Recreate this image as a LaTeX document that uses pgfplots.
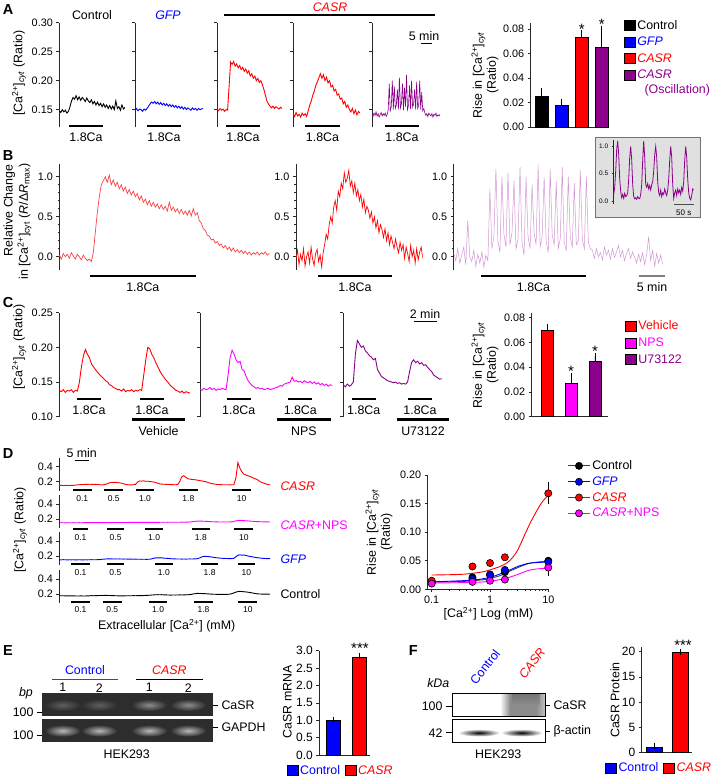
\documentclass[border=0pt]{standalone}
\usepackage{pgfplots}
\pgfplotsset{compat=1.18}
\usepackage{fontspec}
\setmainfont{Liberation Sans}
\definecolor{myblue}{RGB}{0,0,255}
\definecolor{myred}{RGB}{255,0,0}
\definecolor{mymag}{RGB}{255,0,255}
\definecolor{mypur}{RGB}{140,0,140}
\definecolor{mylil}{RGB}{210,150,210}
\definecolor{axc}{RGB}{40,40,40}
\definecolor{gelbg}{RGB}{45,45,45}
\newcommand{\tl}{\fontsize{10.8}{12}\selectfont}
\newcommand{\tlb}{\fontsize{12}{14}\selectfont}
\newcommand{\lb}{\fontsize{12.4}{14}\selectfont}
\newcommand{\sm}{\fontsize{8.5}{9}\selectfont}
\newcommand{\st}{\fontsize{15}{15}\selectfont}
\newcommand{\pl}{\fontsize{14.5}{16}\selectfont\bfseries}
\newcommand{\cyt}{[Ca\textsuperscript{2+}]\textsubscript{\textit{cyt}}}
\tikzset{lb/.style={font=\lb}, sm/.style={font=\sm}, pl/.style={font=\pl}, st/.style={font=\st}}
\pgfplotsset{
 table/yseq/.style={x expr=\coordindex, y index=0, header=false, row sep=\\},
 base/.style={scale only axis, enlargelimits=false, scaled y ticks=false, scaled x ticks=false, axis line style={axc, line width=0.8pt},
   every tick/.style={axc, line width=0.7pt}, major tick length=3pt, minor tick length=1.6pt,
   tick align=outside, tick label style={font=\tl}, anchor=south west},
 trace/.style={base, axis x line=none, axis y line*=left, xtick=\empty, xmin=0},
 bars/.style={base, clip=false, axis x line*=bottom, axis y line*=left, xtick=\empty, ymin=0, ybar, legend cell align=left,
   legend style={draw=none, fill=none, font=\lb, inner sep=0pt}},
 sq/.style={bar shift=0pt, draw=black, line width=0.6pt, legend image code/.code={\draw[##1, line width=0.6pt] (0pt,-5pt) rectangle (10.5pt,5pt);},
   error bars/y dir=plus, error bars/y explicit, error bars/error bar style={black, line width=0.8pt}, error bars/error mark options={black, line width=0.8pt, mark size=3pt}},
}
\begin{document}
\begin{tikzpicture}
\useasboundingbox (0,0) rectangle (716pt,-778pt);
%================ PANEL A ================
\node[pl] at (8pt,-10pt) {A};
\node[lb] at (92pt,-15pt) {Control};
\node[lb, myblue] at (168pt,-15pt) {\textit{GFP}};
\node[lb, myred] at (330pt,-7.5pt) {\textit{CASR}};
\draw[black, line width=1.3pt] (224pt,-15pt) -- (435pt,-15pt);
\node[lb, rotate=90] at (19pt,-73pt) {\cyt{} (Ratio)};
\begin{axis}[trace, at={(59.3pt,-127pt)}, width=65.7pt, height=104.3pt, xmax=43, ymin=0.12, ymax=0.30,
 ytick={0.15,0.20,0.25,0.30}, yticklabels={0.15,0.20,0.25,0.30}]
\addplot[black, line width=0.9pt] table[yseq]{0.148\\0.145\\0.150\\0.146\\0.149\\0.144\\0.147\\0.155\\0.165\\0.171\\0.168\\0.174\\0.167\\0.172\\0.166\\0.171\\0.168\\0.164\\0.170\\0.165\\0.162\\0.167\\0.160\\0.164\\0.158\\0.163\\0.157\\0.161\\0.155\\0.160\\0.154\\0.158\\0.152\\0.157\\0.151\\0.156\\0.150\\0.165\\0.152\\0.155\\0.149\\0.158\\0.151\\0.154\\};
\end{axis}
\begin{axis}[trace, at={(135pt,-127pt)}, width=68pt, height=104.3pt, xmax=45, ymin=0.12, ymax=0.30,
 ytick={0.15,0.20,0.25,0.30}, yticklabels={}]
\addplot[myblue, line width=0.9pt] table[yseq]{0.149\\0.152\\0.148\\0.151\\0.150\\0.147\\0.151\\0.149\\0.152\\0.156\\0.160\\0.163\\0.161\\0.164\\0.160\\0.163\\0.159\\0.162\\0.158\\0.161\\0.157\\0.160\\0.156\\0.159\\0.155\\0.158\\0.154\\0.157\\0.153\\0.156\\0.152\\0.155\\0.151\\0.154\\0.150\\0.153\\0.151\\0.149\\0.153\\0.150\\0.152\\0.149\\0.152\\0.150\\0.151\\0.152\\};
\end{axis}
\begin{axis}[trace, at={(217pt,-127pt)}, width=65pt, height=104.3pt, xmax=43, ymin=0.12, ymax=0.30,
 ytick={0.15,0.20,0.25,0.30}, yticklabels={}]
\addplot[myred, line width=0.9pt] table[yseq]{0.151\\0.148\\0.152\\0.149\\0.151\\0.147\\0.150\\0.149\\0.190\\0.232\\0.228\\0.233\\0.225\\0.229\\0.222\\0.226\\0.219\\0.223\\0.216\\0.220\\0.213\\0.217\\0.208\\0.212\\0.204\\0.208\\0.200\\0.204\\0.197\\0.200\\0.193\\0.185\\0.175\\0.165\\0.160\\0.156\\0.153\\0.156\\0.152\\0.155\\0.153\\0.151\\0.154\\0.152\\};
\end{axis}
\begin{axis}[trace, at={(293pt,-127pt)}, width=67pt, height=104.3pt, xmax=44, ymin=0.12, ymax=0.30,
 ytick={0.15,0.20,0.25,0.30}, yticklabels={}]
\addplot[myred, line width=0.9pt] table[yseq]{0.143\\0.138\\0.145\\0.139\\0.142\\0.137\\0.144\\0.140\\0.143\\0.138\\0.148\\0.158\\0.165\\0.175\\0.182\\0.192\\0.198\\0.205\\0.212\\0.204\\0.210\\0.200\\0.206\\0.196\\0.200\\0.189\\0.192\\0.182\\0.185\\0.175\\0.177\\0.168\\0.170\\0.160\\0.164\\0.154\\0.158\\0.150\\0.146\\0.152\\0.143\\0.149\\0.141\\0.147\\0.144\\};
\end{axis}
\begin{axis}[trace, at={(372pt,-127pt)}, width=68pt, height=104.3pt, xmax=67, ymin=0.12, ymax=0.30,
 ytick={0.15,0.20,0.25,0.30}, yticklabels={}]
\addplot[mypur, line width=0.6pt] table[yseq]{0.142\\0.138\\0.144\\0.140\\0.146\\0.139\\0.143\\0.137\\0.141\\0.145\\0.139\\0.143\\0.140\\0.144\\0.138\\0.142\\0.150\\0.195\\0.148\\0.155\\0.200\\0.150\\0.190\\0.152\\0.158\\0.185\\0.150\\0.205\\0.153\\0.160\\0.195\\0.149\\0.188\\0.155\\0.210\\0.150\\0.158\\0.192\\0.151\\0.200\\0.154\\0.160\\0.185\\0.150\\0.198\\0.152\\0.157\\0.200\\0.150\\0.180\\0.148\\0.152\\0.145\\0.140\\0.143\\0.138\\0.144\\0.141\\0.139\\0.143\\0.137\\0.142\\0.140\\0.144\\0.138\\0.141\\0.139\\0.142\\};
\end{axis}
\foreach \a/\b in {69/103,147/181,226/260,305/340,385/419}{
 \draw[black, line width=2.6pt] (\a pt,-126pt) -- (\b pt,-126pt);
 \node[lb] at ({(\a+\b)/2*1pt},-137pt) {1.8Ca};}
\node[lb] at (424pt,-36pt) {5 min};
\draw[black, line width=1pt] (420.7pt,-43.5pt) -- (431.7pt,-43.5pt);
% A bar chart
\node[lb, rotate=90, align=center] at (485pt,-75pt) {Rise in \cyt\\(Ratio)};
\begin{axis}[bars, at={(530.7pt,-127pt)}, width=77.3pt, height=104.3pt, xmin=0.45, xmax=4.315, ymax=0.0851,
 ytick={0,0.02,0.04,0.06,0.08}, yticklabels={0.00,0.02,0.04,0.06,0.08}, bar width=13pt,
 legend style={at={(1.207,1.045)}, anchor=north west, row sep=2.3pt}]
\addplot[sq, fill=black] coordinates {(1,0.025) +- (0,0.004)}; \addlegendentry{Control}
\addplot[sq, fill=myblue] coordinates {(2,0.018) +- (0,0.0025)}; \addlegendentry{\textcolor{myblue}{\textit{GFP}}}
\addplot[sq, fill=myred] coordinates {(3,0.073) +- (0,0.004)}; \addlegendentry{\textcolor{myred}{\textit{CASR}}}
\addplot[sq, fill=mypur] coordinates {(4,0.065) +- (0,0.015)}; \addlegendentry{\textcolor{mypur}{\textit{CASR}}}
\node[st] at (axis cs:3,0.0800) {*};
\node[st] at (axis cs:4,0.0835) {*};
\end{axis}
\node[lb, mypur, anchor=west] at (641pt,-90pt) {(Oscillation)};
%================ PANEL B ================
\node[pl] at (8pt,-156pt) {B};
\node[lb, rotate=90, anchor=east] at (9.5pt,-161pt) {Relative Change};
\node[lb, rotate=90, anchor=east] at (24.5pt,-160pt) {in [Ca\textsuperscript{2+}]\textsubscript{cyt} (\textit{R}/Δ\textit{R}\textsubscript{max})};
\begin{axis}[trace, at={(59.3pt,-269.5pt)}, width=210pt, height=105.6pt, xmax=105, ymin=-0.16, ymax=1.16,
 ytick={0,0.5,1}, yticklabels={0.0,0.5,1.0}, minor y tick num=4]
\addplot[myred!75, line width=0.7pt] table[yseq]{0.02\\-0.03\\0.04\\0.00\\0.03\\-0.02\\0.05\\0.01\\-0.03\\0.03\\0.00\\-0.04\\0.02\\-0.02\\-0.05\\-0.03\\-0.06\\0.05\\0.30\\0.55\\0.75\\0.90\\0.95\\1.00\\0.93\\1.02\\0.90\\0.96\\0.88\\0.93\\0.85\\0.90\\0.82\\0.87\\0.79\\0.84\\0.77\\0.82\\0.75\\0.79\\0.71\\0.76\\0.68\\0.72\\0.65\\0.70\\0.63\\0.68\\0.62\\0.66\\0.60\\0.65\\0.59\\0.63\\0.57\\0.68\\0.58\\0.62\\0.56\\0.60\\0.54\\0.59\\0.53\\0.57\\0.52\\0.58\\0.51\\0.60\\0.52\\0.55\\0.45\\0.42\\0.35\\0.33\\0.27\\0.26\\0.21\\0.22\\0.17\\0.19\\0.14\\0.16\\0.11\\0.14\\0.09\\0.12\\0.07\\0.11\\0.06\\0.09\\0.05\\0.08\\0.04\\0.07\\0.03\\0.06\\0.02\\0.05\\0.03\\0.06\\0.02\\0.05\\0.03\\0.06\\0.02\\0.04\\};
\end{axis}
\begin{axis}[trace, at={(296pt,-269.5pt)}, width=126.7pt, height=105.6pt, xmax=84, ymin=-0.16, ymax=1.16,
 ytick={0,0.5,1}, yticklabels={0.0,0.5,1.0}, minor y tick num=4]
\addplot[myred, line width=0.7pt] table[yseq]{-0.02\\0.08\\-0.10\\0.03\\-0.05\\0.10\\-0.12\\0.00\\0.06\\-0.08\\0.12\\-0.03\\-0.11\\0.04\\0.09\\-0.06\\0.02\\-0.13\\0.05\\0.15\\0.28\\0.22\\0.40\\0.50\\0.42\\0.62\\0.70\\0.58\\0.82\\0.75\\0.92\\0.85\\1.05\\0.93\\0.98\\1.08\\0.88\\0.95\\0.80\\0.92\\0.76\\0.84\\0.70\\0.78\\0.62\\0.72\\0.55\\0.63\\0.58\\0.48\\0.56\\0.42\\0.50\\0.36\\0.45\\0.30\\0.40\\0.34\\0.24\\0.35\\0.20\\0.30\\0.15\\0.26\\0.18\\0.10\\0.22\\0.12\\0.05\\0.18\\0.08\\0.15\\-0.02\\0.12\\0.04\\-0.06\\0.14\\0.00\\0.08\\-0.08\\0.10\\-0.04\\0.06\\0.12\\-0.02\\};
\end{axis}
\begin{axis}[trace, at={(453.7pt,-269.5pt)}, width=209pt, height=105.6pt, xmax=104, ymin=-0.16, ymax=1.16,
 ytick={0,0.5,1}, yticklabels={0.0,0.5,1.0}, minor y tick num=4]
\addplot[mylil, line width=0.5pt] table[yseq]{0.05\\-0.05\\0.10\\-0.08\\0.02\\0.12\\-0.10\\0.45\\0.00\\-0.06\\0.08\\-0.12\\0.03\\-0.08\\0.06\\-0.13\\0.02\\-0.05\\0.85\\0.10\\0.25\\1.10\\0.20\\0.05\\1.00\\0.28\\0.12\\1.05\\0.15\\0.30\\0.95\\0.10\\0.22\\1.12\\0.18\\0.02\\1.00\\0.25\\0.10\\0.90\\0.30\\0.15\\1.15\\0.12\\0.25\\1.00\\0.20\\0.05\\1.10\\0.28\\0.15\\0.95\\0.10\\0.22\\1.12\\0.18\\0.08\\1.00\\0.25\\0.12\\0.92\\0.15\\0.20\\1.08\\0.22\\0.10\\1.00\\0.18\\0.10\\0.08\\-0.02\\0.10\\0.00\\0.05\\-0.04\\0.12\\0.02\\0.08\\-0.03\\0.10\\-0.01\\0.06\\0.14\\0.00\\0.08\\-0.05\\0.04\\0.10\\-0.02\\0.06\\0.00\\-0.08\\0.03\\-0.06\\0.05\\-0.10\\0.02\\0.25\\-0.05\\0.08\\-0.12\\0.04\\-0.08\\0.02\\-0.10\\};
\end{axis}
\foreach \a/\b in {90/195.7,318.3/391.7,481/586}{
 \draw[black, line width=2.6pt] (\a pt,-276pt) -- (\b pt,-276pt);
 \node[lb] at ({(\a+\b)/2*1pt},-287pt) {1.8Ca};}
\draw[gray, line width=2.6pt] (638.7pt,-276pt) -- (665.3pt,-276pt);
\node[lb] at (652pt,-287pt) {5 min};
% inset
\filldraw[fill=black!12, draw=black!55, line width=0.8pt] (595pt,-137.7pt) rectangle (700pt,-217.7pt);
\begin{axis}[trace, at={(613.7pt,-203.7pt)}, width=80pt, height=63.8pt, xmax=80, ymin=-0.05, ymax=1.12,
 ytick={0,0.5,1}, yticklabels={0.0,0.5,1.0}, major tick length=2pt, tick label style={font=\fontsize{6.5}{7}\selectfont}, axis line style={line width=0.6pt}]
\addplot[mypur, line width=0.8pt] table[yseq]{0.12\\0.25\\0.55\\0.95\\1.10\\0.85\\0.40\\0.18\\0.06\\0.12\\0.05\\0.14\\0.08\\0.10\\0.15\\0.40\\0.80\\1.00\\0.75\\0.30\\0.08\\0.04\\0.06\\0.03\\0.08\\0.05\\0.04\\0.12\\0.30\\0.75\\1.10\\0.80\\0.30\\0.25\\0.32\\0.22\\0.28\\0.20\\0.30\\0.35\\0.55\\0.85\\1.00\\0.80\\0.35\\0.15\\0.10\\0.20\\0.08\\0.15\\0.12\\0.22\\0.15\\0.10\\0.20\\0.40\\0.75\\1.00\\0.80\\0.30\\0.05\\0.15\\0.20\\0.10\\0.22\\0.15\\0.20\\0.12\\0.25\\0.18\\0.35\\0.75\\1.00\\0.80\\0.40\\0.15\\0.05\\0.02\\0.10\\0.22\\0.20\\};
\end{axis}
\draw[black!70, line width=1.2pt] (673.7pt,-204.3pt) -- (693.7pt,-204.3pt);
\node[font=\fontsize{8}{8}\selectfont] at (683.7pt,-212.7pt) {50 s};
%================ PANEL C ================
\node[pl] at (8pt,-303pt) {C};
\node[lb, rotate=90] at (19pt,-347pt) {\cyt{} (Ratio)};
\begin{axis}[trace, at={(59.3pt,-416.7pt)}, width=130.7pt, height=104pt, xmax=65, ymin=0.10, ymax=0.25,
 ytick={0.10,0.15,0.20,0.25}, yticklabels={0.10,0.15,0.20,0.25}]
\addplot[myred, line width=0.9pt] table[yseq]{0.138\\0.136\\0.139\\0.135\\0.138\\0.137\\0.139\\0.135\\0.138\\0.137\\0.150\\0.172\\0.188\\0.197\\0.190\\0.185\\0.176\\0.172\\0.168\\0.164\\0.161\\0.158\\0.155\\0.152\\0.150\\0.146\\0.145\\0.142\\0.141\\0.139\\0.139\\0.137\\0.140\\0.136\\0.138\\0.137\\0.139\\0.136\\0.138\\0.137\\0.139\\0.138\\0.160\\0.182\\0.200\\0.198\\0.190\\0.185\\0.178\\0.172\\0.166\\0.161\\0.157\\0.153\\0.150\\0.146\\0.143\\0.141\\0.138\\0.137\\0.135\\0.137\\0.134\\0.136\\0.135\\0.134\\};
\end{axis}
\begin{axis}[trace, at={(200pt,-416.7pt)}, width=132.3pt, height=104pt, xmax=66, ymin=0.10, ymax=0.25,
 ytick={0.10,0.15,0.20,0.25}, yticklabels={}]
\addplot[mymag, line width=0.9pt] table[yseq]{0.140\\0.138\\0.141\\0.139\\0.140\\0.142\\0.139\\0.141\\0.138\\0.140\\0.139\\0.141\\0.140\\0.139\\0.160\\0.185\\0.196\\0.190\\0.182\\0.178\\0.180\\0.168\\0.166\\0.158\\0.152\\0.148\\0.145\\0.143\\0.141\\0.142\\0.140\\0.141\\0.139\\0.140\\0.141\\0.139\\0.140\\0.141\\0.142\\0.143\\0.145\\0.144\\0.147\\0.148\\0.149\\0.150\\0.157\\0.151\\0.152\\0.150\\0.151\\0.149\\0.152\\0.150\\0.149\\0.151\\0.148\\0.150\\0.147\\0.149\\0.146\\0.148\\0.145\\0.147\\0.144\\0.146\\0.145\\};
\end{axis}
\begin{axis}[trace, at={(343.3pt,-416.7pt)}, width=98.4pt, height=104pt, xmax=49, ymin=0.10, ymax=0.25,
 ytick={0.10,0.15,0.20,0.25}, yticklabels={}]
\addplot[mypur, line width=0.9pt] table[yseq]{0.146\\0.143\\0.147\\0.144\\0.146\\0.150\\0.190\\0.210\\0.205\\0.200\\0.202\\0.195\\0.192\\0.188\\0.186\\0.182\\0.184\\0.168\\0.163\\0.158\\0.156\\0.154\\0.152\\0.151\\0.150\\0.149\\0.150\\0.148\\0.149\\0.147\\0.148\\0.147\\0.150\\0.165\\0.178\\0.182\\0.178\\0.180\\0.176\\0.178\\0.174\\0.175\\0.171\\0.168\\0.165\\0.160\\0.158\\0.156\\0.154\\0.155\\};
\end{axis}
\foreach \a/\b in {77.3/100.7,140/164,226.7/250.7,288.3/312.3,351.7/375.7,408.3/431.7}{
 \draw[black, line width=2.6pt] (\a pt,-399pt) -- (\b pt,-399pt);
 \node[lb] at ({(\a+\b)/2*1pt},-410pt) {1.8Ca};}
\foreach \a/\b/\t in {132.3/185/Vehicle,276.7/331/NPS,396.7/449.3/U73122}{
 \draw[black, line width=2.6pt] (\a pt,-419.3pt) -- (\b pt,-419.3pt);
 \node[lb] at ({(\a+\b)/2*1pt},-431pt) {\t};}
\node[lb] at (425pt,-314pt) {2 min};
\draw[black, line width=1pt] (414.3pt,-321.7pt) -- (436.7pt,-321.7pt);
% C bar chart
\node[lb, rotate=90, align=center] at (485pt,-365pt) {Rise in \cyt\\(Ratio)};
\begin{axis}[bars, at={(531.7pt,-416.7pt)}, width=76.6pt, height=103.4pt, xmin=0.345, xmax=3.56, ymax=0.0835,
 ytick={0,0.02,0.04,0.06,0.08}, yticklabels={0.00,0.02,0.04,0.06,0.08}, bar width=12pt,
 legend style={at={(1.22,0.95)}, anchor=north west, row sep=2.6pt}]
\addplot[sq, fill=myred] coordinates {(1,0.070) +- (0,0.0025)}; \addlegendentry{\textcolor{myred}{Vehicle}}
\addplot[sq, fill=mymag] coordinates {(2,0.027) +- (0,0.006)}; \addlegendentry{\textcolor{mymag}{NPS}}
\addplot[sq, fill=mypur] coordinates {(3,0.045) +- (0,0.004)}; \addlegendentry{\textcolor{mypur}{U73122}}
\node[st] at (axis cs:2,0.0365) {*};
\node[st] at (axis cs:3,0.0525) {*};
\end{axis}
%================ PANEL D ================
\node[pl] at (8pt,-454pt) {D};
\node[lb] at (81.7pt,-452.7pt) {5 min};
\draw[black, line width=1pt] (75pt,-460.7pt) -- (89.3pt,-460.7pt);
\node[lb, rotate=90] at (20pt,-530pt) {\cyt{} (Ratio)};
\begin{axis}[trace, at={(59.3pt,-490.7pt)}, width=210.7pt, height=33pt, xmax=105, ymin=0.08, ymax=0.52,
 ytick={0.2,0.4}, yticklabels={0.2,0.4}]
\addplot[myred, line width=0.9pt] table[yseq]{0.150\\0.152\\0.149\\0.151\\0.150\\0.148\\0.152\\0.150\\0.155\\0.158\\0.160\\0.162\\0.163\\0.165\\0.164\\0.166\\0.165\\0.163\\0.164\\0.162\\0.160\\0.158\\0.160\\0.165\\0.175\\0.185\\0.190\\0.192\\0.190\\0.188\\0.185\\0.180\\0.172\\0.165\\0.160\\0.158\\0.157\\0.160\\0.165\\0.195\\0.210\\0.208\\0.212\\0.205\\0.207\\0.203\\0.200\\0.196\\0.190\\0.180\\0.172\\0.168\\0.166\\0.165\\0.163\\0.162\\0.161\\0.160\\0.160\\0.161\\0.200\\0.265\\0.280\\0.260\\0.240\\0.235\\0.230\\0.228\\0.225\\0.220\\0.215\\0.210\\0.205\\0.200\\0.190\\0.182\\0.175\\0.170\\0.166\\0.163\\0.162\\0.160\\0.160\\0.159\\0.160\\0.158\\0.159\\0.160\\0.250\\0.455\\0.380\\0.330\\0.300\\0.290\\0.280\\0.270\\0.260\\0.245\\0.235\\0.222\\0.200\\0.190\\0.180\\0.170\\0.162\\0.158\\};
\end{axis}
\begin{axis}[trace, at={(59.3pt,-528pt)}, width=210.7pt, height=33pt, xmax=105, ymin=0.08, ymax=0.52,
 ytick={0.2,0.4}, yticklabels={0.2,0.4}]
\addplot[mymag, line width=0.9pt] table[yseq]{0.150\\0.151\\0.150\\0.149\\0.151\\0.150\\0.150\\0.151\\0.150\\0.150\\0.151\\0.150\\0.151\\0.151\\0.152\\0.151\\0.152\\0.152\\0.151\\0.152\\0.152\\0.152\\0.153\\0.152\\0.153\\0.153\\0.152\\0.153\\0.153\\0.154\\0.153\\0.154\\0.154\\0.153\\0.154\\0.155\\0.154\\0.155\\0.154\\0.155\\0.155\\0.154\\0.155\\0.156\\0.155\\0.156\\0.155\\0.156\\0.156\\0.155\\0.156\\0.157\\0.156\\0.157\\0.156\\0.157\\0.157\\0.156\\0.157\\0.157\\0.157\\0.158\\0.157\\0.158\\0.158\\0.160\\0.163\\0.167\\0.170\\0.172\\0.171\\0.172\\0.170\\0.169\\0.168\\0.166\\0.164\\0.163\\0.162\\0.161\\0.160\\0.160\\0.161\\0.160\\0.160\\0.161\\0.162\\0.168\\0.175\\0.180\\0.182\\0.180\\0.178\\0.177\\0.175\\0.172\\0.170\\0.168\\0.166\\0.165\\0.164\\0.163\\0.162\\0.162\\0.161\\0.160\\};
\end{axis}
\begin{axis}[trace, at={(59.3pt,-565pt)}, width=210.7pt, height=33pt, xmax=105, ymin=0.08, ymax=0.52,
 ytick={0.2,0.4}, yticklabels={0.2,0.4}]
\addplot[myblue, line width=0.9pt] table[yseq]{0.150\\0.149\\0.151\\0.150\\0.148\\0.150\\0.149\\0.150\\0.148\\0.149\\0.150\\0.149\\0.148\\0.150\\0.149\\0.150\\0.151\\0.150\\0.150\\0.151\\0.152\\0.155\\0.158\\0.160\\0.162\\0.161\\0.162\\0.160\\0.161\\0.160\\0.161\\0.160\\0.159\\0.160\\0.159\\0.158\\0.158\\0.157\\0.158\\0.157\\0.157\\0.156\\0.157\\0.156\\0.156\\0.157\\0.162\\0.170\\0.175\\0.176\\0.174\\0.175\\0.172\\0.170\\0.168\\0.165\\0.163\\0.162\\0.161\\0.160\\0.160\\0.159\\0.160\\0.159\\0.160\\0.161\\0.160\\0.161\\0.162\\0.165\\0.175\\0.188\\0.195\\0.196\\0.193\\0.190\\0.186\\0.182\\0.178\\0.175\\0.172\\0.170\\0.168\\0.167\\0.166\\0.165\\0.166\\0.170\\0.190\\0.210\\0.215\\0.212\\0.213\\0.208\\0.200\\0.195\\0.190\\0.185\\0.180\\0.176\\0.173\\0.170\\0.168\\0.166\\0.165\\0.164\\};
\end{axis}
\begin{axis}[trace, at={(59.3pt,-603pt)}, width=210.7pt, height=33pt, xmax=105, ymin=0.08, ymax=0.52,
 ytick={0.2,0.4}, yticklabels={0.2,0.4}]
\addplot[black, line width=0.9pt] table[yseq]{0.178\\0.176\\0.177\\0.175\\0.176\\0.174\\0.175\\0.176\\0.174\\0.173\\0.174\\0.175\\0.173\\0.174\\0.175\\0.176\\0.178\\0.177\\0.178\\0.179\\0.180\\0.181\\0.180\\0.182\\0.181\\0.180\\0.179\\0.178\\0.177\\0.176\\0.175\\0.176\\0.175\\0.176\\0.177\\0.176\\0.177\\0.178\\0.177\\0.178\\0.179\\0.178\\0.180\\0.181\\0.182\\0.184\\0.186\\0.188\\0.190\\0.191\\0.190\\0.191\\0.189\\0.188\\0.187\\0.186\\0.186\\0.187\\0.186\\0.187\\0.188\\0.187\\0.188\\0.189\\0.190\\0.192\\0.196\\0.202\\0.206\\0.208\\0.207\\0.206\\0.205\\0.204\\0.202\\0.200\\0.198\\0.197\\0.196\\0.195\\0.194\\0.195\\0.194\\0.195\\0.196\\0.198\\0.205\\0.215\\0.225\\0.232\\0.235\\0.233\\0.230\\0.228\\0.224\\0.220\\0.215\\0.210\\0.205\\0.202\\0.200\\0.199\\0.198\\0.199\\0.198\\0.197\\};
\end{axis}
% D stimulus bars and labels
\foreach \a/\b/\t in {72.7/91.7/0.1,104.3/123.3/0.5,136/154/1.0,179/197.7/1.8,232.3/250.7/10}{
 \draw[black, line width=2pt] (\a pt,-490pt) -- (\b pt,-490pt);
 \node[sm] at ({(\a+\b)/2*1pt},-498.5pt) {\t};}
\foreach \a/\b/\t in {72.7/88.3/0.1,107.3/124/0.5,145/163.3/1.0,191.7/210/1.8,234.3/253.3/10}{
 \draw[black, line width=2pt] (\a pt,-529pt) -- (\b pt,-529pt);
 \node[sm] at ({(\a+\b)/2*1pt},-537.7pt) {\t};}
\foreach \a/\b/\t in {71/90/0.1,106.7/124/0.5,155/172.7/1.0,201/218.3/1.8,237.7/255/10}{
 \draw[black, line width=2pt] (\a pt,-564pt) -- (\b pt,-564pt);
 \node[sm] at ({(\a+\b)/2*1pt},-572.7pt) {\t};}
\foreach \a/\b/\t in {71/90/0.1,102.7/121.7/0.5,149/167.3/1.0,194.3/212.7/1.8,238.3/257.3/10}{
 \draw[black, line width=2pt] (\a pt,-601.7pt) -- (\b pt,-601.7pt);
 \node[sm] at ({(\a+\b)/2*1pt},-609.5pt) {\t};}
\node[lb, myred, anchor=west] at (277pt,-486pt) {\textit{CASR}};
\node[lb, mymag, anchor=west] at (277pt,-525.7pt) {\textit{CASR}+NPS};
\node[lb, myblue, anchor=west] at (277pt,-559pt) {\textit{GFP}};
\node[lb, anchor=west] at (277pt,-594pt) {Control};
\node[lb] at (166.7pt,-626pt) {Extracellular [Ca\textsuperscript{2+}] (mM)};
% D dose response
\node[lb, rotate=90, align=center] at (379pt,-532pt) {Rise in \cyt\\(Ratio)};
\begin{axis}[base, at={(427.7pt,-589.3pt)}, width=121.6pt, height=114.3pt, xmode=log, xmin=0.0854, xmax=10.4, ymin=0, ymax=0.2,
 axis x line*=bottom, axis y line*=left, xtick={0.1,1,10}, xticklabels={0.1,1,10},
 ytick={0,0.05,0.10,0.15,0.20}, yticklabels={0.00,0.05,0.10,0.15,0.20},
 xlabel={[Ca\textsuperscript{2+}] Log (mM)}, xlabel style={font=\lb, yshift=3pt},
 legend cell align=left, legend style={draw=none, fill=none, font=\lb, inner sep=0pt, at={(1.15,1.145)}, anchor=north west, row sep=1.6pt},
 legend image code/.code={\draw[mark repeat=2,mark phase=2,#1] plot coordinates {(0pt,0pt) (10.8pt,0pt) (21.6pt,0pt)};}]
\addplot[black!75, line width=0.9pt, smooth, forget plot] coordinates {(0.1,0.013)(0.3,0.0135)(0.5,0.015)(0.8,0.017)(1,0.019)(1.5,0.024)(2,0.03)(3,0.038)(4,0.043)(5,0.046)(7,0.048)(10,0.049)};
\addplot[myblue, line width=0.9pt, smooth, forget plot] coordinates {(0.1,0.013)(0.5,0.016)(1,0.021)(1.5,0.027)(2,0.032)(3,0.04)(4,0.044)(5,0.046)(7,0.047)(10,0.048)};
\addplot[myred, line width=0.9pt, smooth, forget plot] coordinates {(0.1,0.025)(0.3,0.026)(0.5,0.028)(0.8,0.031)(1,0.034)(1.5,0.04)(2,0.047)(2.5,0.057)(3,0.069)(4,0.097)(5,0.118)(6,0.133)(7,0.145)(8,0.154)(10,0.165)};
\addplot[mymag, line width=0.9pt, smooth, forget plot] coordinates {(0.1,0.011)(0.5,0.012)(1,0.014)(1.5,0.017)(2,0.02)(3,0.026)(4,0.031)(5,0.034)(7,0.036)(10,0.037)};
\addplot[black!75, line width=0.9pt, only marks, mark=*, mark size=3.6pt, mark options={fill=black, draw=black, line width=0.6pt}, legend image post style={sharp plot}] coordinates {(0.1,0.013)(0.5,0.021)(1,0.026)(1.8,0.030)(10,0.050)};
\addlegendentry{Control}
\addplot[myblue, line width=0.9pt, only marks, mark=*, mark size=3.6pt, mark options={fill=myblue, draw=black, line width=0.6pt}, legend image post style={sharp plot}] coordinates {(0.1,0.012)(0.5,0.018)(1,0.025)(1.8,0.034)(10,0.048)};
\addlegendentry{\textcolor{myblue}{\textit{GFP}}}
\addplot[myred, line width=0.9pt, only marks, mark=*, mark size=3.6pt, mark options={fill=myred, draw=black, line width=0.6pt}, legend image post style={sharp plot},
 error bars/y dir=both, error bars/y explicit, error bars/error bar style={black, line width=0.8pt}, error bars/error mark options={black, line width=0.8pt, mark size=3pt}] coordinates {(0.1,0.015) (0.5,0.040) (1,0.046) (1.8,0.056) (10,0.168) +- (0,0.014)};
\addlegendentry{\textcolor{myred}{\textit{CASR}}}
\addplot[mymag, line width=0.9pt, only marks, mark=*, mark size=3.6pt, mark options={fill=mymag, draw=black, line width=0.6pt}, legend image post style={sharp plot},
 error bars/y dir=both, error bars/y explicit, error bars/error bar style={black, line width=0.8pt}, error bars/error mark options={black, line width=0.8pt, mark size=3pt}] coordinates {(0.1,0.010) (0.5,0.013) (1,0.015) (1.8,0.017) (10,0.038) +- (0,0.009)};
\addlegendentry{\textcolor{mymag}{\textit{CASR}+NPS}}
\end{axis}
%================ PANEL E ================
\node[pl] at (8pt,-650.7pt) {E};
\node[lb, myblue] at (85pt,-670pt) {Control};
\draw[black!70, line width=0.9pt] (52.3pt,-679pt) -- (118.3pt,-679pt);
\node[lb, myred] at (169.3pt,-670pt) {\textit{CASR}};
\draw[black, line width=0.9pt] (136pt,-679pt) -- (202.7pt,-679pt);
\foreach \x/\n in {62.7/1,99.3/2,149.3/1,188.3/2}{\node[lb] at (\x pt,-687.7pt) {\n};}
\node[lb] at (26pt,-693.3pt) {\textit{bp}};
\fill[gelbg] (41.7pt,-693.3pt) rectangle (213.3pt,-716pt);
\fill[gelbg] (41.7pt,-719.3pt) rectangle (213.3pt,-742pt);
\foreach \x/\c in {62.7/95,99.3/95,149.3/140,188.3/140}{
 \shade[inner color={rgb,255:red,\c;green,\c;blue,\c}, outer color=gelbg] (\x pt,-705pt) ellipse (18pt and 6pt);}
\foreach \x in {62.7,99.3,149.3,188.3}{
 \shade[inner color={rgb,255:red,185;green,185;blue,185}, outer color=gelbg] (\x pt,-730.7pt) ellipse (18pt and 6pt);}
\node[lb, anchor=east] at (37pt,-712.7pt) {100};
\draw[black, line width=0.8pt] (37pt,-712.7pt) -- (41.7pt,-712.7pt);
\node[lb, anchor=east] at (37pt,-735pt) {100};
\draw[black, line width=0.8pt] (37pt,-735pt) -- (41.7pt,-735pt);
\draw[black, line width=0.8pt] (213.3pt,-705pt) -- (218pt,-705pt);
\node[lb, anchor=west] at (218pt,-705pt) {CaSR};
\draw[black, line width=0.8pt] (213.3pt,-727.7pt) -- (218pt,-727.7pt);
\node[lb, anchor=west] at (218pt,-727.7pt) {GAPDH};
\node[lb] at (126.7pt,-754.3pt) {HEK293};
\node[lb, rotate=90] at (287.3pt,-701.7pt) {CaSR mRNA};
\begin{axis}[bars, at={(319.3pt,-755pt)}, width=50.7pt, height=104.3pt, xmin=0.46, xmax=2.417, ymax=3.0,
 ytick={0,0.5,1,1.5,2,2.5,3}, yticklabels={0.0,0.5,1.0,1.5,2.0,2.5,3.0}, bar width=14.7pt, tick label style={font=\tlb},
 legend columns=2, legend style={at={(-0.64,-0.08)}, anchor=north west, /tikz/every even column/.append style={column sep=3pt}}]
\addplot[sq, fill=myblue] coordinates {(1,1.0) +- (0,0.02)}; \addlegendentry{\textcolor{myblue}{Control}}
\addplot[sq, fill=myred] coordinates {(2,2.8) +- (0,0.06)}; \addlegendentry{\textcolor{myred}{\textit{CASR}}}
\end{axis}
\node[st] at (360pt,-648pt) {***};
%================ PANEL F ================
\node[pl] at (413.3pt,-650.7pt) {F};
\node[lb, myblue, rotate=52] at (485pt,-667pt) {Control};
\node[lb, myred, rotate=52] at (532pt,-663.3pt) {\textit{CASR}};
\node[lb] at (438.3pt,-682.7pt) {\textit{kDa}};
\fill[white] (452.7pt,-693.3pt) rectangle (545pt,-716.7pt);
\shade[left color=white, right color=black!45] (500pt,-694pt) rectangle (510pt,-716pt);
\fill[black!45] (510pt,-694pt) rectangle (536pt,-716pt);
\shade[left color=black!45, right color=black!25] (536pt,-694pt) rectangle (544.5pt,-716pt);
\shade[top color=black!60, bottom color=black!45, opacity=0.6] (512pt,-694pt) rectangle (540pt,-705pt);
\draw[black, line width=0.9pt] (452.7pt,-693.3pt) rectangle (545pt,-716.7pt);
\fill[white] (452.7pt,-719.3pt) rectangle (545pt,-742.7pt);
\shade[inner color=black, outer color=white] (479pt,-732.7pt) ellipse (21pt and 3.8pt);
\shade[inner color=black, outer color=white] (521.7pt,-732.7pt) ellipse (21pt and 3.8pt);
\draw[black, line width=0.9pt] (452.7pt,-719.3pt) rectangle (545pt,-742.7pt);
\node[lb, anchor=east] at (446pt,-706.7pt) {100};
\draw[black, line width=0.8pt] (446pt,-706.7pt) -- (452.7pt,-706.7pt);
\node[lb, anchor=east] at (446pt,-732.7pt) {42};
\draw[black, line width=0.8pt] (446pt,-732.7pt) -- (452.7pt,-732.7pt);
\draw[black, line width=0.8pt] (545pt,-705pt) -- (550pt,-705pt);
\node[lb, anchor=west] at (550pt,-705pt) {CaSR};
\draw[black, line width=0.8pt] (545pt,-731.7pt) -- (550pt,-731.7pt);
\node[lb, anchor=west] at (550pt,-731.7pt) {β-actin};
\node[lb] at (498.3pt,-754.3pt) {HEK293};
\node[lb, rotate=90] at (615pt,-700pt) {CaSR Protein};
\begin{axis}[bars, at={(641.7pt,-752.3pt)}, width=50pt, height=105.6pt, xmin=0.536, xmax=2.42, ymax=21,
 ytick={0,5,10,15,20}, yticklabels={0,5,10,15,20}, bar width=15.7pt, tick label style={font=\tlb},
 legend columns=2, legend style={at={(-0.73,-0.08)}, anchor=north west, /tikz/every even column/.append style={column sep=3pt}}]
\addplot[sq, fill=myblue] coordinates {(1,1.0) +- (0,0.2)}; \addlegendentry{\textcolor{myblue}{Control}}
\addplot[sq, fill=myred] coordinates {(2,19.8) +- (0,0.15)}; \addlegendentry{\textcolor{myred}{\textit{CASR}}}
\end{axis}
\node[st] at (683pt,-645pt) {***};
\end{tikzpicture}
\end{document}
